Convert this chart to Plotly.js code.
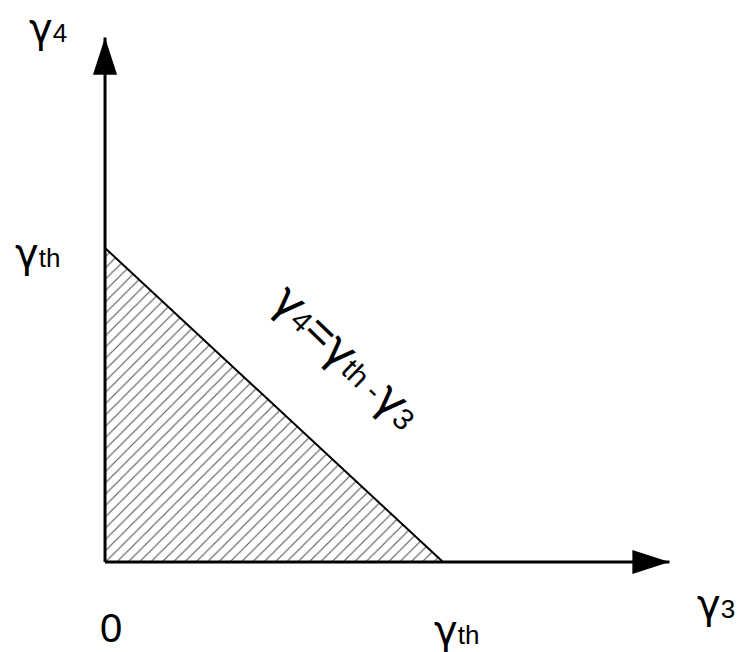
<!DOCTYPE html>
<html>
<head>
<meta charset="utf-8">
<script src="https://cdn.plot.ly/plotly-3.0.1.min.js"></script>
<style>
  body { margin: 0; background: #fff; }
  #chart { width: 739px; height: 652px; }
</style>
</head>
<body>
<div id="chart"></div>
<script>
// region gamma3 + gamma4 <= gamma_th (gamma_th normalised to 1)
var gammaTh = 1;
var axisEnd = 1.67;

var regionX = [0, gammaTh, 0, 0];
var regionY = [0, 0, gammaTh, 0];

var axisX = [0, axisEnd, null, 0, 0];
var axisY = [0, 0, null, 0, axisEnd];

var arrowX = [axisEnd, 0];
var arrowY = [0, axisEnd];
var arrowAngle = [90, 0];

function g(sub, big, small) {
  big = big || 40;
  small = small || 26;
  return '<span style="font-family:DejaVu Sans;font-size:' + big + 'px">γ</span>' +
    '<span style="font-size:' + small + 'px">' + sub + '</span>';
}

var region = {
  x: regionX, y: regionY,
  mode: 'lines',
  fill: 'toself',
  fillcolor: 'rgba(255,255,255,0)',
  fillpattern: {shape: '/', size: 8, solidity: 0.14, fgcolor: '#555', bgcolor: 'white'},
  line: {color: 'black', width: 2},
  hoverinfo: 'skip'
};

var axes = {
  x: axisX, y: axisY,
  mode: 'lines',
  line: {color: 'black', width: 3},
  hoverinfo: 'skip'
};

var heads = {
  x: arrowX, y: arrowY,
  mode: 'markers',
  marker: {symbol: 'arrow', size: 39, angle: arrowAngle, color: 'black'},
  hoverinfo: 'skip'
};

var labelFont = {family: 'Liberation Sans, Arial, sans-serif', size: 40, color: 'black'};

var layout = {
  width: 739, height: 652,
  margin: {l: 0, r: 0, t: 0, b: 0},
  paper_bgcolor: 'white', plot_bgcolor: 'white',
  showlegend: false,
  font: labelFont,
  xaxis: {range: [-0.3107, 1.8757], visible: false, fixedrange: true},
  yaxis: {range: [-0.2866, 1.7898], visible: false, fixedrange: true},
  annotations: [
    {x: -0.169, y: 1.70, text: g('4'), showarrow: false},
    {x: -0.201, y: gammaTh - 0.016, text: g('th'), showarrow: false},
    {x: 0.019, y: -0.209, text: '0', showarrow: false},
    {x: gammaTh + 0.041, y: -0.215, text: g('th'), showarrow: false},
    {x: 1.808, y: -0.134, text: g('3'), showarrow: false},
    {x: 0.713, y: 0.655,
     text: g('4', 46, 30) + '<span style="font-size:46px">=</span>' + g('th', 46, 30) +
       '<span style="font-size:30px"> -</span>' + g('3', 46, 30),
     textangle: 44, showarrow: false}
  ]
};

Plotly.newPlot('chart', [region, axes, heads], layout, {staticPlot: true});
</script>
</body>
</html>
